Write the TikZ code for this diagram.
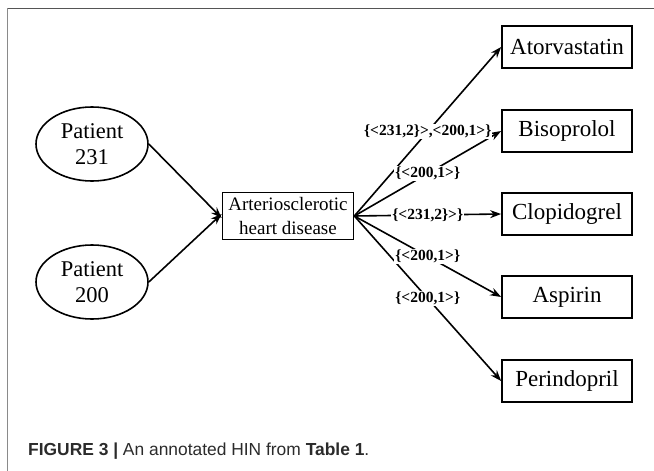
\documentclass[tikz,border=0pt]{standalone}
\usepackage{fontspec}
\setmainfont{Liberation Serif}
\setsansfont{Liberation Sans}
\usetikzlibrary{shapes.geometric,arrows.meta}
\definecolor{frametop}{HTML}{555555}
\definecolor{frameleft}{HTML}{8A8A8A}
\definecolor{captxt}{HTML}{2B2B2B}
\tikzset{
  pat/.style={ellipse,draw,line width=1.6pt,minimum width=112pt,minimum height=74pt,inner sep=0pt,align=center,font=\fontsize{22.5}{24}\selectfont},
  drug/.style={rectangle,draw,line width=1.7pt,minimum width=130pt,minimum height=42pt,inner sep=0pt,font=\fontsize{23}{24}\selectfont},
  dis/.style={rectangle,draw,line width=1.7pt,minimum width=131pt,minimum height=47pt,inner sep=0pt,align=center,font=\fontsize{19}{21}\selectfont},
  arr/.style={line width=1.6pt,-{Stealth[length=11pt,width=8pt]}},
  lab/.style={fill=white,inner sep=1pt,font=\fontsize{15.5}{16}\selectfont\bfseries}
}
\begin{document}
\begin{tikzpicture}[x=1pt,y=-1pt]
\useasboundingbox (0,0) rectangle (654,471);
\draw[frametop,line width=1.4pt] (7,8.5) -- (654,8.5);
\draw[frameleft,line width=1.4pt] (7.5,8) -- (7.5,471);
\node[pat] (p1) at (92,144) {Patient\\[2pt]231};
\node[pat] (p2) at (92,282) {Patient\\[2pt]200};
\node[dis] (a) at (288,216) {Arteriosclerotic\\[3pt]heart disease};
\node[drug] (d1) at (567,47) {Atorvastatin};
\node[drug] (d2) at (567,131) {Bisoprolol};
\node[drug] (d3) at (567,214) {Clopidogrel};
\node[drug] (d4) at (567,297) {Aspirin};
\node[drug] (d5) at (567,381) {Perindopril};
\draw[arr] (p1.east) -- ([yshift=-2]a.west);
\draw[arr] (p2.east) -- ([yshift=2]a.west);
\draw[arr] (a.east) -- (d1.west) coordinate[pos=0.5] (m1);
\draw[arr] (a.east) -- (d2.west) coordinate[pos=0.5] (m2);
\draw[arr] (a.east) -- (d3.west) coordinate[pos=0.5] (m3);
\draw[arr] (a.east) -- (d4.west) coordinate[pos=0.5] (m4);
\draw[arr] (a.east) -- (d5.west) coordinate[pos=0.5] (m5);
\node[lab] (l1) at (m1) {\{<231,2\}>,<200,1>\}};
\node[lab] (l2) at (m2) {\{<200,1>\}};
\node[lab] (l3) at (m3) {\{<231,2\}>\}};
\node[lab] (l4) at (m4) {\{<200,1>\}};
\node[lab] (l5) at (m5) {\{<200,1>\}};
\node[anchor=base west,inner sep=0pt,text=captxt,font=\sffamily\fontsize{17.4}{20}\selectfont] (cap) at (28,455) {\textbf{FIGURE 3 |} An annotated HIN from \textbf{Table 1}.};
\end{tikzpicture}
\end{document}
